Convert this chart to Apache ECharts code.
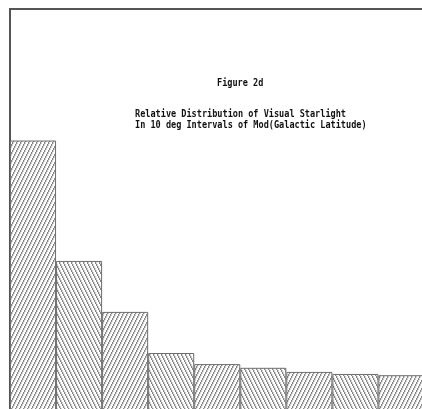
<!DOCTYPE html>
<html>
<head>
<meta charset="utf-8">
<script src="https://cdn.jsdelivr.net/npm/echarts@6/dist/echarts.min.js"></script>
<style>
  html, body { margin: 0; padding: 0; background: #fff; }
  #chart { width: 422px; height: 409px; }
</style>
</head>
<body>
<div id="chart"></div>
<script>
// latitude bands, 10 deg each
const categories = ['0-10', '10-20', '20-30', '30-40', '40-50', '50-60', '60-70', '70-80', '80-90']
// relative starlight per band (axis 0..100)
const values = [68, 38.7, 26.3, 16.3, 13.6, 12.7, 11.7, 11.2, 10.9]
const titleLines = [
  'Figure 2d',
  'Relative Distribution of Visual Starlight',
  'In 10 deg Intervals of Mod(Galactic Latitude)',
]

// small tile with one steep hatch line
function hatch(dir) {
  const w = 4, h = 8
  const c = document.createElement('canvas')
  c.width = w
  c.height = h
  const ctx = c.getContext('2d')
  ctx.fillStyle = '#fff'
  ctx.fillRect(0, 0, w, h)
  for (let y = 0; y < h; y++) {
    let x = Math.floor(y * w / h)
    if (dir === '/') x = w - 1 - x
    ctx.fillStyle = '#858585'
    ctx.fillRect(x, y, 1, 1)
    ctx.fillStyle = '#d2d2d2'
    ctx.fillRect((x + 1) % w, y, 1, 1)
  }
  return { image: c, repeat: 'repeat' }
}
const fwd = hatch('/')
const back = hatch('\\')

// monospace title, squeezed so the long line is ~211px wide like the figure
const font = 'bold 11px "DejaVu Sans Mono"'
const mc = document.createElement('canvas').getContext('2d')
mc.font = font
const sx = 211 / mc.measureText(titleLines[1]).width
function titleText(str, x, y) {
  return {
    type: 'text', x: x, y: y, scaleX: sx,
    style: { text: str, font: font, fill: '#111', verticalAlign: 'middle' },
  }
}

let myChart = echarts.init(document.getElementById('chart'))
const option = {
  animation: false,
  grid: {
    show: true,
    left: 10,
    top: 9,
    width: 414.5,
    height: 411,
    outerBoundsMode: 'none',
    borderColor: '#555',
    borderWidth: 2,
  },
  xAxis: {
    type: 'category',
    data: categories,
    show: false,
  },
  yAxis: {
    type: 'value',
    min: 0,
    max: 100,
    show: false,
  },
  graphic: [
    titleText(titleLines[0], 217, 83),
    titleText(titleLines[1], 135, 114),
    titleText(titleLines[2], 135, 125),
  ],
  series: [
    {
      type: 'bar',
      barCategoryGap: '0%',
      data: values.map((v, i) => ({
        value: v,
        itemStyle: { color: i % 2 === 0 ? fwd : back },
      })),
      itemStyle: {
        borderColor: '#6e6e6e',
        borderWidth: 1,
      },
      silent: true,
    },
  ],
}
myChart.setOption(option)
</script>
</body>
</html>
